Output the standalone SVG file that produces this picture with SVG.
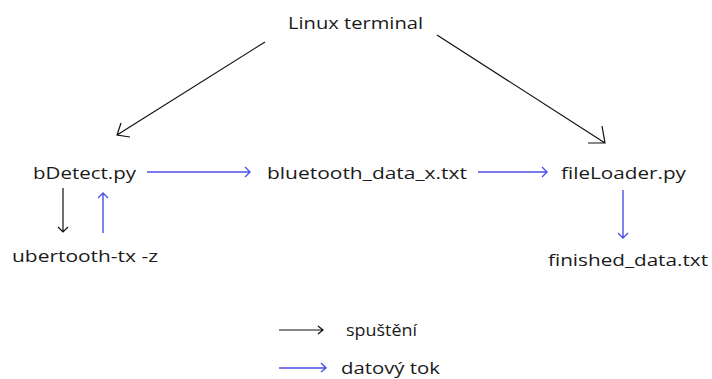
<svg xmlns="http://www.w3.org/2000/svg" width="712" height="379" viewBox="0 0 712 379">
<style>
text{font-family:"Open Sans","Liberation Sans",sans-serif;font-size:17px;fill:#1a1a1a}
.k{stroke:#111;stroke-width:1.2;fill:none}
.b{stroke:#4f4fe6;stroke-width:1.4;fill:none}
</style>
<rect width="712" height="379" fill="#fff"/>
<g id="linux"><text x="288" y="29" textLength="135" lengthAdjust="spacingAndGlyphs">Linux terminal</text></g>
<g id="bdetect"><text x="33" y="179" textLength="103" lengthAdjust="spacingAndGlyphs">bDetect.py</text></g>
<g id="btdata"><text x="267" y="179" textLength="200" lengthAdjust="spacingAndGlyphs">bluetooth_data_x.txt</text></g>
<g id="fileloader"><text x="561" y="179" textLength="125" lengthAdjust="spacingAndGlyphs">fileLoader.py</text></g>
<g id="ubertooth"><text x="12" y="262" textLength="146" lengthAdjust="spacingAndGlyphs">ubertooth-tx -z</text></g>
<g id="finished"><text x="548" y="266" textLength="160" lengthAdjust="spacingAndGlyphs">finished_data.txt</text></g>
<g id="legend">
<path class="k" d="M279 330H323M318 326L323 330L318 334"/>
<text x="346" y="336" textLength="71" lengthAdjust="spacingAndGlyphs">spuštění</text>
<path class="b" d="M279 368H326M321 363L326 368L321 372"/>
<text x="341" y="374" textLength="99" lengthAdjust="spacingAndGlyphs">datový tok</text>
</g>
<g id="connectors">
<path class="k" d="M265 42L117 135M121 123L117 135L130 137"/>
<path class="k" d="M437 35L605 143M602 126L605 143L588 143"/>
<path class="b" d="M147 172H250M245 167L250 172L245 177"/>
<path class="b" d="M478 172H547M542 167L547 172L542 177"/>
<path class="b" d="M623 190V238M618 233L623 238L628 233"/>
<path class="k" d="M63 188V232M58 227L63 232L68 227"/>
<path class="b" d="M103 233V193M98 198L103 193L108 198"/>
</g>
</svg>
